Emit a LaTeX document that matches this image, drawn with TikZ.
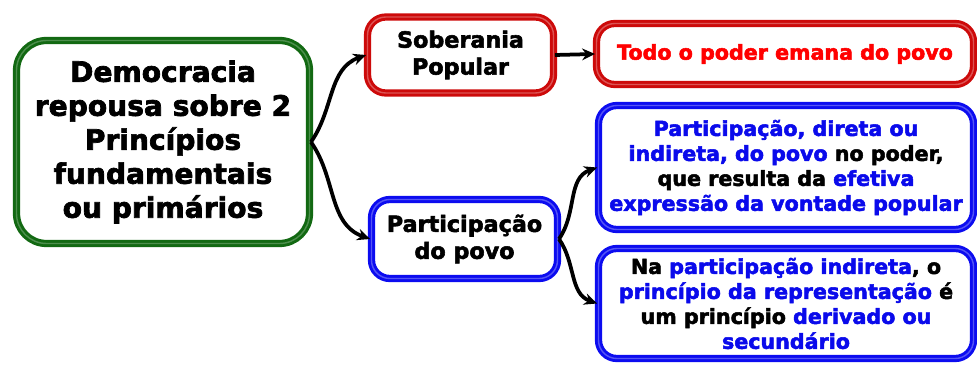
\documentclass[tikz,border=0pt]{standalone}
\usepackage{fontspec}
\setmainfont{DejaVu Sans}[BoldFeatures={FakeBold=2.5}]
\usetikzlibrary{arrows.meta}

\definecolor{rootgreen}{RGB}{18,105,18}
\definecolor{boxred}{RGB}{205,10,10}
\definecolor{boxblue}{RGB}{12,12,240}
\definecolor{txtblue}{RGB}{10,10,235}
\newcommand{\bl}[1]{\textcolor{txtblue}{#1}}

\begin{document}
\begin{tikzpicture}[
    box/.style={draw, rounded corners=0.55cm, line width=2.5pt, double distance=1.2pt, fill=white, align=center, inner sep=2pt, font=\bfseries},
    rootbox/.style={box, draw=rootgreen, double=rootgreen!75!white, rounded corners=0.9cm, font=\fontsize{24}{29}\selectfont\bfseries},
    redbox/.style={draw=boxred, double=boxred!70!white},
    bluebox/.style={draw=boxblue, double=boxblue!70!white},
    midbox/.style={box, font=\fontsize{19}{23}\selectfont\bfseries},
    sidebox/.style={box, font=\fontsize{17.6}{21.3}\selectfont\bfseries},
    link/.style={line width=3.2pt, -{Stealth[length=11pt,width=10pt]}}
  ]
  \useasboundingbox (0,0) rectangle (29.31,-10.95);
  \node[rootbox, minimum width=8.79cm, minimum height=6.09cm] (root) at (4.89,-4.26) {Democracia\\repousa sobre 2\\Princípios\\fundamentais\\ou primários};
  \node[midbox, redbox, minimum width=5.58cm, minimum height=2.28cm] (sob) at (13.815,-1.65) {Soberania\\Popular};
  \node[midbox, bluebox, minimum width=5.58cm, minimum height=2.37cm] (part) at (13.935,-7.17) {Participação\\do povo};
  \node[sidebox, redbox, text=red, minimum width=11.31cm, minimum height=1.83cm] (todo) at (23.55,-1.62) {Todo o poder emana do povo};
  \node[sidebox, bluebox, minimum width=11.25cm, minimum height=3.72cm] (direta) at (23.58,-5.025) {\bl{Participação, direta ou}\\\bl{indireta, do povo} no poder,\\que resulta da \bl{efetiva}\\\bl{expressão da vontade popular}};
  \node[sidebox, bluebox, minimum width=11.25cm, minimum height=3.3cm] (indireta) at (23.58,-9.105) {Na \bl{participação indireta}, o\\\bl{princípio da representação} é\\um princípio \bl{derivado ou}\\\bl{secundário}};
  \draw[link] (root.east) to[out=55,in=200] (sob.west);
  \draw[link] (root.east) to[out=-55,in=160] (part.west);
  \draw[link] (sob.east) -- (todo.west);
  \draw[link] (part.east) to[out=55,in=200] (direta.west);
  \draw[link] (part.east) to[out=-55,in=160] (indireta.west);
\end{tikzpicture}
\end{document}
